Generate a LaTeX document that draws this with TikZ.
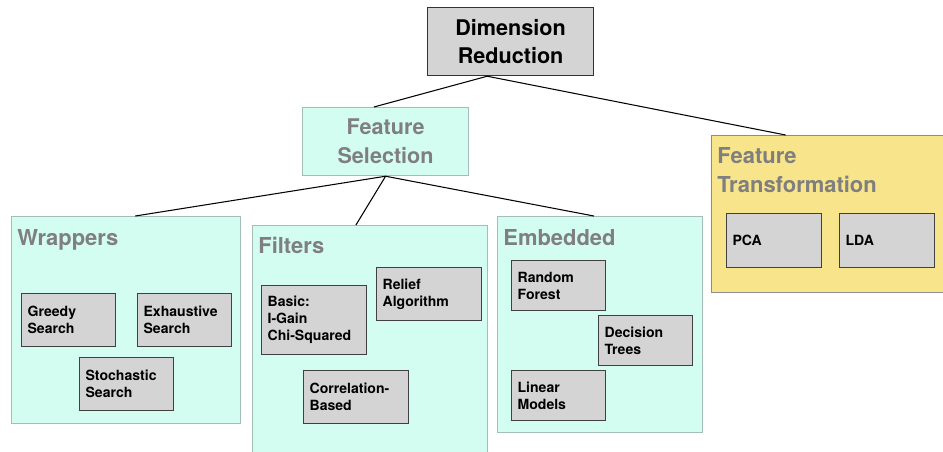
\documentclass[tikz,border=0pt]{standalone}
\usepackage{fontspec}
\setmainfont{TeX Gyre Heros}
\usepackage{xcolor}
\usepackage{tikz}
\usetikzlibrary{
    shapes,
    positioning,
    calc
}
\definecolor{boxgray}{HTML}{D4D4D4}
\definecolor{selcyan}{HTML}{D4FDF2}
\definecolor{cyanline}{HTML}{A3BDB7}
\definecolor{transyellow}{HTML}{F7E48B}
\definecolor{titlegray}{HTML}{7F7F7F}
\tikzset{topbox/.style={
    draw=black!80,
    fill=boxgray,
    line width=0.7pt,
    anchor=north west,
    align=center,
    minimum width=3.32cm,
    minimum height=1.36cm,
    font=\bfseries\fontsize{12.3}{16.4}\selectfont,
}}
\tikzset{group/.style={
    draw=cyanline,
    fill=selcyan,
    line width=0.7pt,
    anchor=north west,
}}
\tikzset{grouptitle/.style={
    anchor=base west,
    inner sep=0pt,
    text=titlegray,
    align=left,
    font=\bfseries\fontsize{12.5}{16.4}\selectfont,
}}
\tikzset{item/.style={
    draw=black!75,
    fill=boxgray,
    line width=0.7pt,
    anchor=north west,
    align=left,
    inner xsep=0.12cm,
    text width=1.64cm,
    minimum height=1.06cm,
    font=\bfseries\fontsize{8}{9.6}\selectfont,
}}
\tikzset{link/.style={
    draw=black,
    line width=0.6pt,
}}

\begin{document}
\begin{tikzpicture}[x=0.02cm, y=-0.02cm]
    \clip (0,0) rectangle (943,451);

    % root and second level
    \node[topbox] (dr) at (427,7) {Dimension\\Reduction};
    \node[topbox, draw=cyanline, fill=selcyan, text=titlegray] (fs) at (302,107) {Feature\\Selection};
    \node[group, draw=black!45, fill=transyellow, minimum width=4.64cm, minimum height=3.14cm] (ft) at (711,135) {};
    \node[grouptitle] (fttitle) at (717,192) {Feature\\Transformation};

    % selection groups
    \node[group, minimum width=4.58cm, minimum height=4.14cm] (wrap) at (11,216) {};
    \node[grouptitle] (wraptitle) at (17,245) {Wrappers};
    \node[group, minimum width=4.7cm, minimum height=4.8cm] (filt) at (252,225) {};
    \node[grouptitle] (filttitle) at (258,253) {Filters};
    \node[group, minimum width=4.1cm, minimum height=4.32cm] (emb) at (497,216) {};
    \node[grouptitle] (embtitle) at (503,245) {Embedded};

    % wrappers
    \node[item] (greedy) at (21,293) {Greedy\\Search};
    \node[item] (exhaust) at (137,293) {Exhaustive\\Search};
    \node[item] (stoch) at (79,357) {Stochastic\\Search};

    % filters
    \node[item, text width=1.86cm, minimum height=1.38cm] (basic) at (261,285) {Basic:\\I-Gain\\Chi-Squared};
    \node[item, text width=1.86cm] (relief) at (376,267) {Relief\\Algorithm};
    \node[item, text width=1.86cm] (corr) at (303,370) {Correlation-\\Based};

    % embedded
    \node[item, minimum height=1.0cm] (forest) at (511,260) {Random\\Forest};
    \node[item, minimum height=1.0cm] (trees) at (598,315) {Decision\\Trees};
    \node[item, minimum height=1.0cm] (linear) at (511,370) {Linear\\Models};

    % transformation
    \node[item, text width=1.66cm, minimum height=1.08cm] (pca) at (726,213) {PCA};
    \node[item, text width=1.66cm, minimum height=1.08cm] (lda) at (839,213) {LDA};

    % tree links
    \draw[link] ($(dr.south west)!0.36!(dr.south east)$) -- ($(fs.north west)!0.43!(fs.north east)$);
    \draw[link] ($(dr.south west)!0.36!(dr.south east)$) -- ($(ft.north west)!0.32!(ft.north east)$);
    \draw[link] (fs.south) -- ($(wrap.north west)!0.54!(wrap.north east)$);
    \draw[link] (fs.south) -- ($(filt.north west)!0.44!(filt.north east)$);
    \draw[link] (fs.south) -- ($(emb.north west)!0.47!(emb.north east)$);

\end{tikzpicture}
\end{document}
